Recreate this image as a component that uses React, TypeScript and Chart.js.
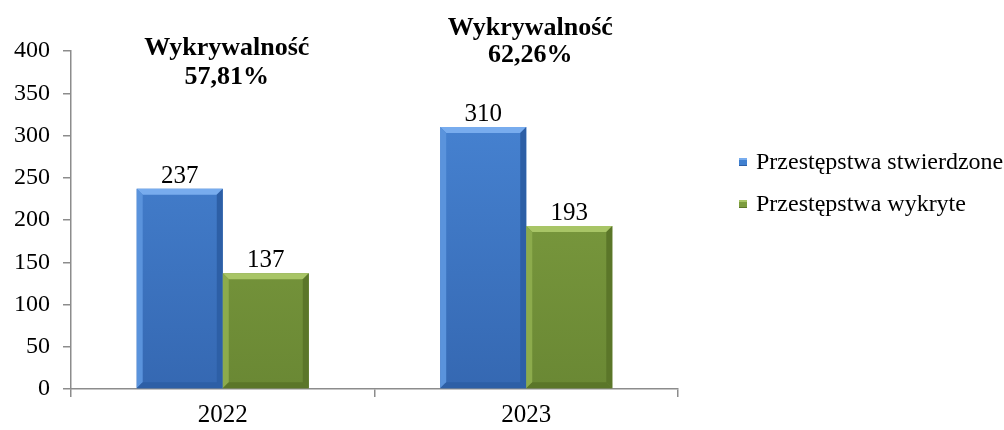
import { useEffect, useRef } from "react";
import { Chart, registerables } from "chart.js";

Chart.register(...registerables);

const categories = ["2022", "2023"];
const stwierdzone = [237, 310];
const wykryte = [137, 193];
const seriesNames = ["Przestępstwa stwierdzone", "Przestępstwa wykryte"];
const rateTitle = "Wykrywalność";
const rateValues = ["57,81%", "62,26%"];
const yMin = 0;
const yMax = 400;
const yStep = 50;

// annotation anchor levels (in axis units) for the two text lines above each category
const rateLineLevels = [
  [403, 369],
  [427, 395],
];

const FONT = "'Liberation Serif', 'Times New Roman', Times, serif";

const palette = [
  { main: "#4080d0", top: "#78acee", light: "#5a93dc", dark: "#2d5fa6", bottomTone: "#3568b2" },
  { main: "#7c9c3e", top: "#a8c566", light: "#8cab4c", dark: "#5b7629", bottomTone: "#6a8834" },
];

const CANVAS_W = 1004;
const CANVAS_H = 430;

const bevelPlugin = {
  id: "bevelAndLabels",
  afterDatasetsDraw(chart: any) {
    const ctx = chart.ctx;
    chart.data.datasets.forEach((ds: any, di: number) => {
      const meta = chart.getDatasetMeta(di);
      const col = palette[di];
      meta.data.forEach((bar: any, i: number) => {
        const { x, y, base, width } = bar.getProps(["x", "y", "base", "width"], true);
        const l = x - width / 2;
        const r = x + width / 2;
        const t = y;
        const b = base;
        const bv = 6;
        ctx.save();
        ctx.fillStyle = col.top;
        ctx.beginPath();
        ctx.moveTo(l, t);
        ctx.lineTo(r, t);
        ctx.lineTo(r - bv, t + bv);
        ctx.lineTo(l + bv, t + bv);
        ctx.closePath();
        ctx.fill();
        ctx.fillStyle = col.light;
        ctx.beginPath();
        ctx.moveTo(l, t);
        ctx.lineTo(l + bv, t + bv);
        ctx.lineTo(l + bv, b - bv);
        ctx.lineTo(l, b);
        ctx.closePath();
        ctx.fill();
        ctx.fillStyle = col.dark;
        ctx.beginPath();
        ctx.moveTo(r, t);
        ctx.lineTo(r - bv, t + bv);
        ctx.lineTo(r - bv, b - bv);
        ctx.lineTo(r, b);
        ctx.closePath();
        ctx.fill();
        ctx.beginPath();
        ctx.moveTo(l, b);
        ctx.lineTo(r, b);
        ctx.lineTo(r - bv, b - bv);
        ctx.lineTo(l + bv, b - bv);
        ctx.closePath();
        ctx.fill();
        ctx.restore();

        ctx.save();
        ctx.font = `25px ${FONT}`;
        ctx.fillStyle = "#000";
        ctx.textAlign = "center";
        ctx.textBaseline = "alphabetic";
        ctx.fillText(String(ds.data[i]), x, t - 6);
        ctx.restore();
      });
    });
  },
  afterDraw(chart: any) {
    const ctx = chart.ctx;
    const xs = chart.scales.x;
    const ys = chart.scales.y;
    ctx.save();
    ctx.font = `bold 26px ${FONT}`;
    ctx.fillStyle = "#000";
    ctx.textAlign = "center";
    ctx.textBaseline = "middle";
    categories.forEach((_, i) => {
      const cx = xs.getPixelForValue(i) + 4;
      ctx.fillText(rateTitle, cx, ys.getPixelForValue(rateLineLevels[i][0]));
      ctx.fillText(rateValues[i], cx, ys.getPixelForValue(rateLineLevels[i][1]));
    });
    ctx.restore();

    ctx.save();
    ctx.font = `24px ${FONT}`;
    ctx.textAlign = "left";
    ctx.textBaseline = "middle";
    const lx = chart.chartArea.right + 61;
    const area = chart.chartArea;
    const rowY = [area.top + 111, area.top + 153];
    seriesNames.forEach((name, i) => {
      const cy = rowY[i];
      const col = palette[i];
      ctx.fillStyle = col.main;
      ctx.fillRect(lx, cy - 4, 8, 8);
      ctx.fillStyle = col.top;
      ctx.fillRect(lx, cy - 4, 8, 2);
      ctx.fillStyle = col.dark;
      ctx.fillRect(lx, cy + 3, 8, 1);
      ctx.fillStyle = "#000";
      ctx.fillText(name, lx + 17, cy + 1);
    });
    ctx.restore();
  },
};

function makeGradient(chart: any, c1: string, c2: string) {
  const area = chart.chartArea;
  if (!area) return c1;
  const g = chart.ctx.createLinearGradient(0, area.top, 0, area.bottom);
  g.addColorStop(0, c1);
  g.addColorStop(1, c2);
  return g;
}

export default function App() {
  const ref = useRef<HTMLCanvasElement>(null);
  useEffect(() => {
    if (!ref.current) return;
    const chart = new Chart(ref.current, {
      type: "bar",
      data: {
        labels: categories,
        datasets: [
          {
            label: seriesNames[0],
            data: stwierdzone,
            backgroundColor: (c: any) => makeGradient(c.chart, "#4a88d8", palette[0].bottomTone),
            borderWidth: 0,
            categoryPercentage: 0.567,
            barPercentage: 1,
          },
          {
            label: seriesNames[1],
            data: wykryte,
            backgroundColor: (c: any) => makeGradient(c.chart, "#84a444", palette[1].bottomTone),
            borderWidth: 0,
            categoryPercentage: 0.567,
            barPercentage: 1,
          },
        ],
      },
      options: {
        animation: false,
        responsive: false,
        maintainAspectRatio: false,
        layout: { padding: { left: 0, right: CANVAS_W - 678, top: 51, bottom: CANVAS_H - 389 - 33 } },
        plugins: {
          legend: { display: false },
          tooltip: { enabled: false },
          title: { display: false },
        },
        scales: {
          x: {
            grid: {
              offset: true,
              drawOnChartArea: false,
              drawTicks: true,
              tickLength: 8,
              color: "#8c8c8c",
              lineWidth: 1.5,
            },
            border: { color: "#8c8c8c", width: 1.5 },
            ticks: {
              color: "#000",
              font: { family: FONT, size: 25 },
              padding: 3,
            },
            afterFit(scale: any) {
              scale.height = 33;
            },
          },
          y: {
            min: yMin,
            max: yMax,
            grid: {
              drawOnChartArea: false,
              drawTicks: true,
              tickLength: 8,
              color: "#8c8c8c",
              lineWidth: 1.5,
            },
            border: { color: "#8c8c8c", width: 1.5 },
            ticks: {
              stepSize: yStep,
              color: "#000",
              font: { family: FONT, size: 24 },
              padding: 13,
            },
            afterFit(scale: any) {
              scale.width = 71;
            },
          },
        },
      },
      plugins: [bevelPlugin],
    });
    return () => chart.destroy();
  }, []);
  return (
    <div style={{ width: 988, height: 400 }}>
      <canvas
        ref={ref}
        width={CANVAS_W}
        height={CANVAS_H}
        style={{ display: "block", position: "fixed", left: 0, top: 0 }}
      />
    </div>
  );
}
